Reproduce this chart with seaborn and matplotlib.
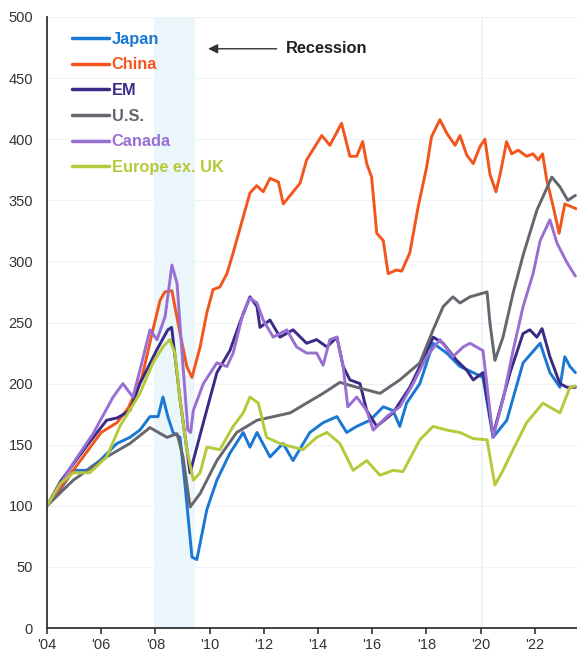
import pandas as pd
import matplotlib
matplotlib.use("Agg")
import matplotlib.pyplot as plt
import seaborn as sns

# -------------------------------
# Data (index 2004 = 100)
# -------------------------------

japan_t = [2004.0, 2004.48, 2004.97, 2005.46, 2005.95, 2006.58, 2007.06, 2007.43, 2007.8, 2008.1,
           2008.28, 2008.46, 2008.65, 2008.91, 2009.09, 2009.35, 2009.53, 2009.9, 2010.27, 2010.75,
           2011.24, 2011.49, 2011.75, 2012.23, 2012.71, 2013.08, 2013.7, 2014.19, 2014.7, 2015.06,
           2015.43, 2015.92, 2016.41, 2016.77, 2017.02, 2017.27, 2017.76, 2018.25, 2018.75, 2019.24,
           2019.73, 2020.09, 2020.46, 2020.97, 2021.57, 2022.2, 2022.56, 2022.93, 2023.11, 2023.3, 2023.5]
japan_v = [100, 113, 129, 129, 137, 151, 156, 162, 173, 173,
           189, 173, 160, 156, 118, 58, 56, 97, 121, 143,
           160, 148, 160, 140, 151, 137, 160, 168, 173, 160,
           165, 170, 181, 178, 165, 184, 200, 233, 225, 214,
           209, 205, 156, 170, 217, 233, 209, 197, 222, 214, 209]

china_t = [2004.0, 2004.5, 2005.0, 2005.5, 2006.0, 2006.58, 2007.0, 2007.5, 2007.91, 2008.17,
           2008.35, 2008.61, 2008.91, 2009.16, 2009.35, 2009.65, 2009.9, 2010.13, 2010.38, 2010.64,
           2010.87, 2011.49, 2011.74, 2011.98, 2012.23, 2012.54, 2012.72, 2013.34, 2013.58, 2014.14,
           2014.44, 2014.87, 2015.18, 2015.43, 2015.65, 2015.8, 2015.98, 2016.17, 2016.41, 2016.59,
           2016.9, 2017.09, 2017.39, 2017.7, 2018.01, 2018.19, 2018.5, 2018.75, 2019.06, 2019.24,
           2019.49, 2019.73, 2019.98, 2020.16, 2020.35, 2020.57, 2020.72, 2020.96, 2021.15, 2021.39,
           2021.7, 2021.94, 2022.13, 2022.29, 2022.44, 2022.68, 2022.9, 2023.11, 2023.54]
china_v = [100, 115, 130, 145, 160, 168, 180, 205, 244, 268,
           275, 276, 241, 214, 205, 230, 258, 277, 279, 290,
           307, 356, 362, 357, 368, 365, 347, 364, 383, 403,
           395, 413, 386, 386, 398, 380, 369, 323, 317, 290,
           293, 292, 307, 345, 377, 402, 416, 405, 395, 403,
           387, 380, 394, 400, 371, 357, 371, 398, 388, 391,
           386, 388, 383, 388, 367, 345, 323, 347, 343]

em_t = [2004.0, 2004.5, 2005.0, 2005.5, 2006.2, 2006.6, 2007.06, 2007.43, 2008.06, 2008.46,
        2008.6, 2008.91, 2009.28, 2009.77, 2010.27, 2010.75, 2011.12, 2011.49, 2011.75, 2011.86,
        2012.23, 2012.6, 2013.08, 2013.58, 2013.95, 2014.33, 2014.7, 2014.93, 2015.18, 2015.55,
        2015.8, 2016.17, 2016.77, 2017.39, 2017.87, 2018.25, 2018.62, 2019.12, 2019.49, 2019.73,
        2020.09, 2020.46, 2021.09, 2021.57, 2021.82, 2022.08, 2022.27, 2022.56, 2022.93, 2023.19, 2023.5]
em_v = [100, 120, 135, 150, 170, 172, 178, 200, 228, 244,
        246, 187, 127, 168, 209, 227, 250, 271, 263, 246,
        252, 238, 244, 233, 236, 230, 238, 214, 203, 200,
        178, 165, 176, 197, 219, 238, 233, 219, 211, 203,
        209, 158, 209, 241, 244, 238, 245, 222, 200, 197, 197]

us_t = [2004.0, 2004.97, 2006.2, 2007.06, 2007.8, 2008.43, 2008.8, 2009.02, 2009.28, 2009.65,
        2010.27, 2011.0, 2011.75, 2012.97, 2014.19, 2014.81, 2015.43, 2016.29, 2017.02, 2017.76,
        2018.25, 2018.62, 2018.98, 2019.24, 2019.61, 2020.24, 2020.35, 2020.53, 2020.83, 2021.2,
        2021.57, 2022.08, 2022.63, 2022.93, 2023.22, 2023.5]
us_v = [100, 121, 140, 151, 164, 156, 159, 140, 99, 110,
        137, 160, 170, 176, 192, 201, 197, 192, 203, 217,
        244, 263, 271, 266, 271, 275, 249, 219, 238, 274,
        305, 342, 369, 361, 350, 354]

canada_t = [2004.0, 2004.5, 2004.97, 2005.7, 2006.44, 2006.8, 2007.17, 2007.43, 2007.8, 2008.06,
            2008.36, 2008.61, 2008.8, 2009.02, 2009.2, 2009.3, 2009.4, 2009.77, 2010.27, 2010.64,
            2010.87, 2011.24, 2011.49, 2011.75, 2011.98, 2012.35, 2012.85, 2013.21, 2013.58, 2013.95,
            2014.19, 2014.44, 2014.7, 2014.93, 2015.1, 2015.43, 2015.8, 2016.04, 2016.54, 2017.02,
            2017.51, 2018.01, 2018.5, 2018.98, 2019.36, 2019.61, 2020.09, 2020.46, 2020.83, 2021.2,
            2021.57, 2021.94, 2022.2, 2022.56, 2022.82, 2023.19, 2023.5]
canada_v = [100, 118, 135, 159, 189, 200, 189, 211, 244, 236,
            255, 297, 282, 214, 162, 160, 178, 200, 217, 214,
            225, 258, 270, 266, 252, 238, 244, 230, 225, 225,
            215, 236, 238, 214, 181, 189, 178, 162, 173, 181,
            200, 222, 236, 222, 230, 233, 227, 156, 187, 227,
            263, 290, 317, 334, 315, 299, 288]

europe_t = [2004.0, 2004.48, 2004.97, 2005.58, 2006.2, 2006.69, 2007.43, 2007.91, 2008.28, 2008.53,
            2008.72, 2008.91, 2009.16, 2009.4, 2009.65, 2009.9, 2010.38, 2010.87, 2011.24, 2011.49,
            2011.8, 2012.1, 2012.6, 2013.08, 2013.45, 2013.95, 2014.33, 2014.81, 2015.3, 2015.8,
            2016.29, 2016.77, 2017.14, 2017.76, 2018.25, 2018.75, 2019.24, 2019.73, 2020.24, 2020.53,
            2020.83, 2021.2, 2021.7, 2022.3, 2022.93, 2023.3, 2023.5]
europe_v = [100, 118, 127, 127, 140, 165, 192, 217, 230, 236,
            225, 187, 146, 121, 127, 148, 146, 165, 176, 189,
            184, 156, 151, 148, 146, 156, 160, 151, 129, 137,
            125, 129, 128, 154, 165, 162, 160, 155, 154, 117,
            129, 146, 168, 184, 176, 197, 198]

series_names = ["Japan", "China", "EM", "U.S.", "Canada", "Europe ex. UK"]
series_colors = ["#1a78d4", "#f2561d", "#3a2a86", "#66666e", "#9a6fd2", "#b6c93a"]

year_ticks = [2004, 2006, 2008, 2010, 2012, 2014, 2016, 2018, 2020, 2022]
year_labels = ["'04", "'06", "'08", "'10", "'12", "'14", "'16", "'18", "'20", "'22"]

recessions = [(2007.95, 2009.45), (2020.0, 2020.1)]

# -------------------------------
# Long table for seaborn
# -------------------------------

frames = []
for name, t, v in zip(series_names,
                      [japan_t, china_t, em_t, us_t, canada_t, europe_t],
                      [japan_v, china_v, em_v, us_v, canada_v, europe_v]):
    frames.append(pd.DataFrame({"year": t, "value": v, "series": name}))
df = pd.concat(frames, ignore_index=True)

# -------------------------------
# Plot
# -------------------------------

sns.set_theme(style="white")
plt.rcParams["font.family"] = ["Liberation Sans", "DejaVu Sans"]

fig = plt.figure(figsize=(5.77, 6.55), dpi=100)
ax = fig.add_axes([47 / 577, 27 / 655, 530 / 577, 611 / 655])

for y in range(50, 501, 50):
    ax.axhline(y, color="#eef2f6", lw=0.8, zorder=0)

for start, end in recessions:
    ax.axvspan(start, end, color="#ebf6fa", lw=0, zorder=0)

sns.lineplot(data=df, x="year", y="value", hue="series", hue_order=series_names,
             palette=series_colors, estimator=None, sort=False, linewidth=2.1, ax=ax)

ax.set_xlim(2004, 2023.56)
ax.set_ylim(0, 500)
ax.set_yticks(range(0, 501, 50))
ax.set_xticks(year_ticks)
ax.set_xticklabels(year_labels)
ax.set_xlabel("")
ax.set_ylabel("")

for side in ["top", "right"]:
    ax.spines[side].set_visible(False)
for side in ["left", "bottom"]:
    ax.spines[side].set_color("#333333")
    ax.spines[side].set_linewidth(1.3)

ax.tick_params(axis="y", length=0, pad=10, labelsize=10.5, labelcolor="#333333")
ax.tick_params(axis="x", length=4, width=1.2, color="#333333", direction="out",
               pad=3, labelsize=10.5, labelcolor="#333333", bottom=True)

leg = ax.legend(loc="upper left", bbox_to_anchor=(0.02, 1.0), frameon=False,
                handlelength=2.25, handletextpad=0.15, labelspacing=0.65,
                prop={"weight": "bold", "size": 11.8})
for line, text, c in zip(leg.get_lines(), leg.get_texts(), series_colors):
    line.set_linewidth(2.5)
    text.set_color(c)

ax.annotate("Recession", xy=(2009.95, 474), xytext=(2012.8, 474),
            fontsize=11.8, fontweight="bold", color="#222222", va="center", ha="left",
            arrowprops=dict(arrowstyle="-|>", color="#333333", lw=1.0, shrinkA=4, shrinkB=0,
                            mutation_scale=14))

fig.savefig("out.png", dpi=100)
plt.close(fig)
